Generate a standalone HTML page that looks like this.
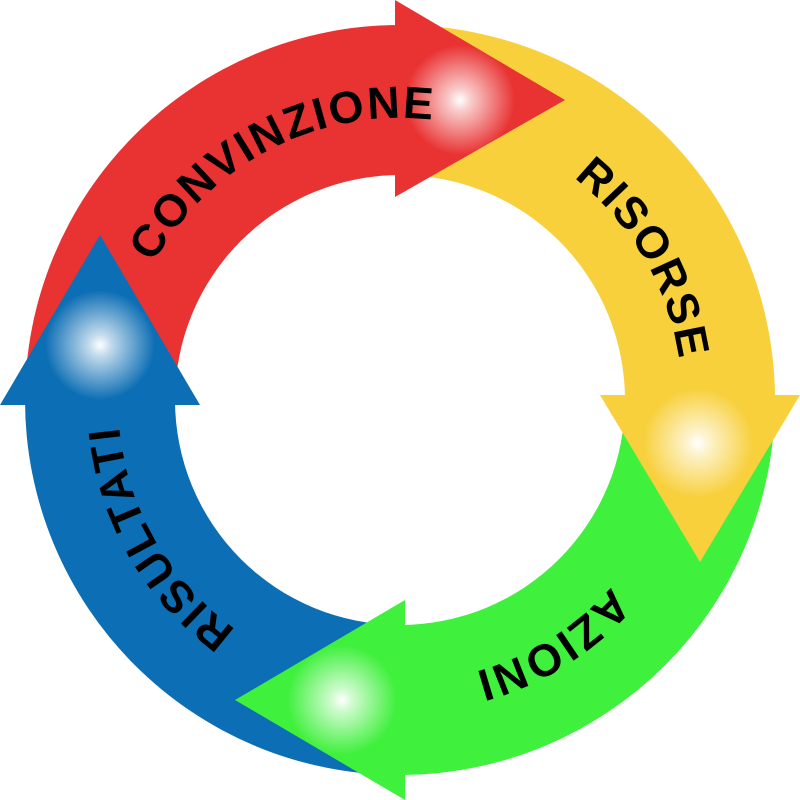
<!DOCTYPE html>
<html><head><meta charset="utf-8"><style>html,body{margin:0;padding:0;background:#fff}svg{display:block}</style></head>
<body>
<svg width="800" height="800" viewBox="0 0 800 800" xmlns="http://www.w3.org/2000/svg">
<defs>
<radialGradient id="g"><stop offset="0" stop-color="#fff" stop-opacity="1"/><stop offset="0.2" stop-color="#fff" stop-opacity="0.75"/><stop offset="1" stop-color="#fff" stop-opacity="0"/></radialGradient>
<path id="tp" d="M 118 400 A 282 282 0 1 1 682 400 A 282 282 0 1 1 118 400"/>
</defs>
<path d="M25 400 A375 375 0 0 1 400 25 L400 175 A225 225 0 0 0 175 400 Z" fill="#e93232"/>
<path d="M400 25 A375 375 0 0 1 775 400 L625 400 A225 225 0 0 0 400 175 Z" fill="#f8d03c"/>
<path d="M775 400 A375 375 0 0 1 400 775 L400 625 A225 225 0 0 0 625 400 Z" fill="#3ff03c"/>
<path d="M400 775 A375 375 0 0 1 25 400 L175 400 A225 225 0 0 0 400 625 Z" fill="#0c6eb4"/>
<polygon points="395,0 565,100 395,197" fill="#e93232"/>
<polygon points="600,395 800,395 700,562" fill="#f8d03c"/>
<polygon points="405,600 405,800 235,700" fill="#3ff03c"/>
<polygon points="0,405 200,405 100,235" fill="#0c6eb4"/>
<circle cx="460" cy="100" r="55" fill="url(#g)"/>
<circle cx="698" cy="443" r="55" fill="url(#g)"/>
<circle cx="342" cy="700" r="55" fill="url(#g)"/>
<circle cx="100" cy="345" r="55" fill="url(#g)"/>
<g font-family="Liberation Sans, sans-serif" font-weight="bold" font-size="45" fill="#000" text-anchor="middle" letter-spacing="2">
<text><textPath href="#tp" startOffset="310">CONVINZIONE</textPath></text>
<text><textPath href="#tp" startOffset="738">RISORSE</textPath></text>
<text><textPath href="#tp" startOffset="1172">AZIONI</textPath></text>
<text><textPath href="#tp" startOffset="1625">RISULTATI</textPath></text>
</g>
</svg>
</body></html>
